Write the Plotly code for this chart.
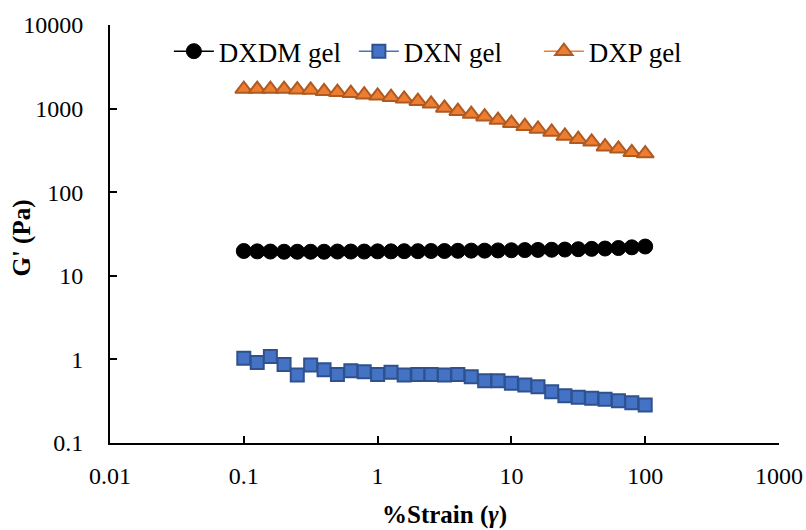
import plotly.graph_objects as go

# Strain sweep points (% strain)
strain = [0.1, 0.126, 0.158, 0.2, 0.251, 0.316, 0.398, 0.501, 0.631, 0.794,
          1, 1.26, 1.58, 2, 2.51, 3.16, 3.98, 5.01, 6.31, 7.94,
          10, 12.6, 15.8, 20, 25.1, 31.6, 39.8, 50.1, 63.1, 79.4, 100]

# Storage modulus G' (Pa)
g_dxdm = [19.8, 19.6, 19.5, 19.4, 19.4, 19.4, 19.4, 19.5, 19.5, 19.5,
          19.6, 19.6, 19.7, 19.7, 19.8, 19.8, 19.9, 20.0, 20.0, 20.1,
          20.2, 20.3, 20.4, 20.5, 20.6, 20.8, 21.0, 21.2, 21.5, 21.9, 22.4]
g_dxn = [1.03, 0.92, 1.08, 0.87, 0.65, 0.86, 0.75, 0.66, 0.73, 0.71,
         0.66, 0.70, 0.65, 0.66, 0.66, 0.65, 0.66, 0.62, 0.556, 0.556,
         0.518, 0.494, 0.472, 0.411, 0.368, 0.352, 0.343, 0.333, 0.321, 0.303, 0.285]
g_dxp = [1714, 1714, 1714, 1714, 1685, 1670, 1610, 1570, 1530, 1465,
         1420, 1370, 1310, 1225, 1140, 1020, 930, 860, 800, 730,
         670, 615, 570, 525, 470, 430, 400, 350, 330, 300, 290]

x_ticks = [0.01, 0.1, 1, 10, 100, 1000]
x_tick_text = ["0.01", "0.1", "1", "10", "100", "1000"]
y_ticks = [0.1, 1, 10, 100, 1000, 10000]
y_tick_text = ["0.1", "1", "10", "100", "1000", "10000"]

FONT = "Liberation Serif"

fig = go.Figure()
fig.add_trace(go.Scatter(
    x=strain, y=g_dxdm, name="DXDM gel", mode="lines+markers",
    line=dict(color="black", width=1.5),
    marker=dict(symbol="circle", size=15, color="black",
                line=dict(color="black", width=1)),
))
fig.add_trace(go.Scatter(
    x=strain, y=g_dxn, name="DXN gel", mode="lines+markers",
    line=dict(color="#4472C4", width=1.5),
    marker=dict(symbol="square", size=13, color="#4472C4",
                line=dict(color="#2F528F", width=2)),
))
fig.add_trace(go.Scatter(
    x=strain, y=g_dxp, name="DXP gel", mode="lines+markers",
    line=dict(color="#ED7D31", width=1.5),
    marker=dict(symbol="triangle-up", size=15, color="#ED7D31",
                line=dict(color="#AE5A21", width=2)),
))

axis_common = dict(
    type="log", showgrid=False, zeroline=False, showline=True,
    linecolor="black", linewidth=2, ticks="inside", ticklen=7,
    tickwidth=2, tickcolor="black", mirror=False, automargin=False,
    tickfont=dict(family=FONT, size=24, color="black"),
)

fig.update_xaxes(
    **axis_common, range=[-2, 3], tickvals=x_ticks, ticktext=x_tick_text,
    ticklabelstandoff=10,
)
fig.update_yaxes(
    **axis_common, range=[-1, 4], tickvals=y_ticks, ticktext=y_tick_text,
    ticklabelstandoff=20,
)

# Axis titles
title_font = dict(family=FONT, size=25, color="black")
fig.add_annotation(text="<b>%Strain (</b><b><i>γ</i></b><b>)</b>",
                   xref="paper", yref="paper", x=0.5, y=-0.172,
                   xanchor="center", yanchor="middle", showarrow=False,
                   font=title_font)
fig.add_annotation(text="<b>G' (Pa)</b>", textangle=-90,
                   xref="paper", yref="paper", x=-0.131, y=0.49,
                   xanchor="center", yanchor="middle", showarrow=False,
                   font=title_font)

fig.update_layout(
    width=806, height=530,
    margin=dict(l=110, r=27, t=25, b=87),
    paper_bgcolor="white", plot_bgcolor="white",
    font=dict(family=FONT, size=24, color="black"),
    legend=dict(orientation="h", x=0.088, y=0.995, xanchor="left", yanchor="top",
                font=dict(family=FONT, size=27, color="black"),
                bgcolor="rgba(0,0,0,0)", itemwidth=40, tracegroupgap=0,
                entrywidth=130),
    showlegend=True,
)

fig.write_html("out.html")
